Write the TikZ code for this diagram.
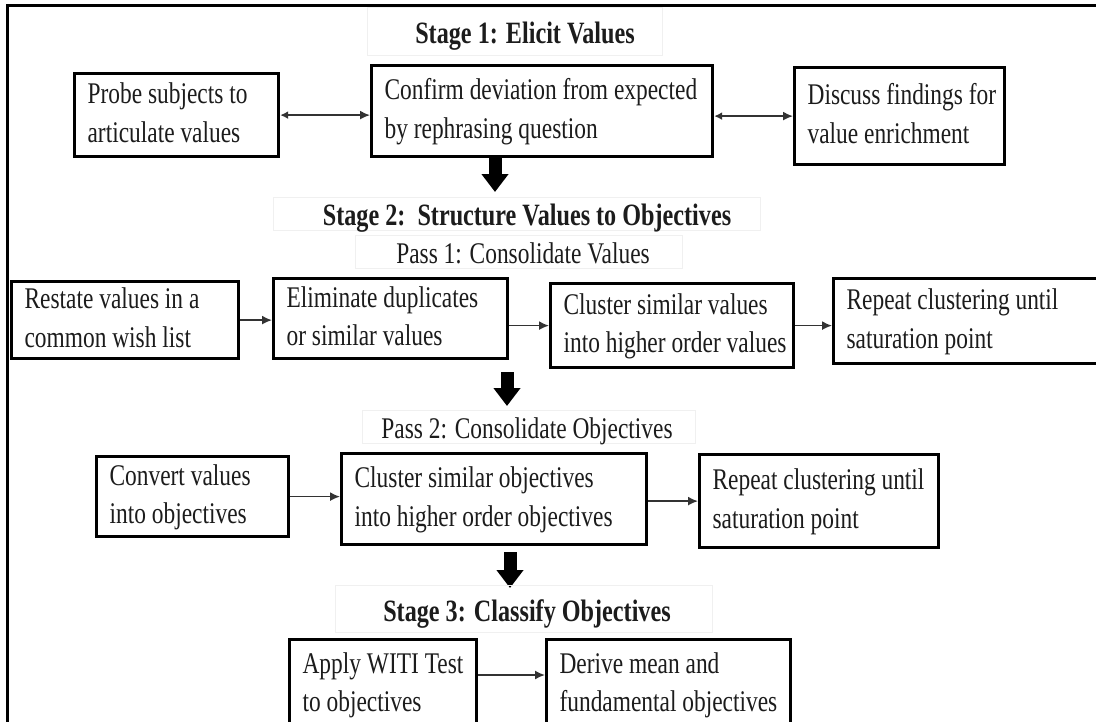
\documentclass[tikz,border=0pt]{standalone}
\usepackage{fontspec}
\setmainfont{Liberation Serif}[FakeStretch=0.78]
\usetikzlibrary{arrows.meta,calc}
\definecolor{ink}{HTML}{1C1C1C}
\definecolor{faint}{HTML}{F0F0F0}
% two left-aligned lines inside a box of fixed width (in pt)
\newcommand\twoline[3]{\makebox[#1pt][l]{\hspace{13pt}\begin{tabular}{@{}l@{}}#2\\#3\end{tabular}}}
\tikzset{
  box/.style={draw=black, line width=3.2pt, inner sep=0pt, anchor=north west,
              text=ink, font=\fontsize{30}{38.5}\selectfont},
  ttl/.style={font=\fontsize{31}{36}\selectfont\bfseries, text=ink, inner sep=0pt, anchor=base},
  sub/.style={font=\fontsize{30}{36}\selectfont, text=ink, inner sep=0pt, anchor=base},
  link/.style={draw=black!80, line width=1.6pt, -{Latex[length=10pt,width=9pt]}},
  dlink/.style={draw=black!80, line width=1.6pt, {Latex[length=8pt,width=8pt]}-{Latex[length=10pt,width=9pt]}},
  bigarrow/.style={draw=black, line width=13pt, -{Triangle[length=18pt,width=26pt]}},
  faintbox/.style={draw=faint, line width=0.8pt},
}
\begin{document}
\begin{tikzpicture}[x=1pt,y=-1pt]
\useasboundingbox (0,0) rectangle (1096,721);
\clip (0,0) rectangle (1096,721);
\fill[white] (0,0) rectangle (1096,721);

% outer frame (top and left edges)
\draw[line width=2.6pt] (7.5,730) -- (7.5,5.5) -- (1100,5.5);

% ---------- Stage 1 ----------
\draw[faintbox] (367,7) rectangle (662,55);
\node[ttl] (s1) at (525,43) {Stage 1: Elicit Values};

\node[box, minimum height=83pt] (probe) at (73,72) {\twoline{204}{Probe subjects to}{articulate values}};
\node[box, minimum height=91pt] (confirm) at (370,64) {\twoline{341}{Confirm deviation from expected}{by rephrasing question}};
\node[box, minimum height=97pt] (discuss) at (793,66) {\twoline{210}{Discuss findings for}{value enrichment}};

\draw[dlink] (probe.east) -- (probe.east -| confirm.west);
\draw[dlink] (confirm.east |- discuss.west) -- (discuss.west);

\coordinate (k1) at (495,192);
\draw[bigarrow] (k1 |- confirm.south) -- (k1);

% ---------- Stage 2 ----------
\draw[faintbox] (273,197) rectangle (760,230);
\node[ttl] (s2) at (527,225) {Stage 2:\ \ Structure Values to Objectives};
\draw[faintbox] (355,235) rectangle (682,268);
\node[sub] (p1) at (523,263) {Pass 1: Consolidate Values};

\node[box, minimum height=73pt] (restate) at (10,280) {\twoline{227}{Restate values in a}{common wish list}};
\node[box, minimum height=80pt] (elim) at (272,277) {\twoline{234}{Eliminate duplicates}{or similar values}};
\node[box, minimum height=84pt] (clval) at (549,282) {\twoline{243}{Cluster similar values}{into higher order values}};
\node[box, minimum height=85pt] (rep1) at (832,277) {\twoline{280}{Repeat clustering until}{saturation point}};

\draw[link] (restate.east) -- (restate.east -| elim.west);
\draw[link] (elim.east |- clval.west) -- (clval.west);
\draw[link] (clval.east) -- (clval.east -| rep1.west);

\coordinate (k2a) at (507,372);
\coordinate (k2b) at (507,406);
\draw[bigarrow] (k2a) -- (k2b);

\draw[faintbox] (362,410) rectangle (695,443);
\node[sub] (p2) at (527,438) {Pass 2: Consolidate Objectives};

\node[box, minimum height=80pt] (convert) at (95,455) {\twoline{192}{Convert values}{into objectives}};
\node[box, minimum height=91pt] (clobj) at (340,452) {\twoline{305}{Cluster similar objectives}{into higher order objectives}};
\node[box, minimum height=93pt] (rep2) at (698,453) {\twoline{239}{Repeat clustering until}{saturation point}};

\draw[link] (convert.east) -- (convert.east -| clobj.west);
\draw[link] (clobj.east |- rep2.west) -- (rep2.west);

\coordinate (k3a) at (510,552);
\coordinate (k3b) at (510,588);
\draw[bigarrow] (k3a) -- (k3b);

% ---------- Stage 3 ----------
\draw[faintbox] (335,585) rectangle (712,632);
\node[ttl] (s3) at (527,621) {Stage 3: Classify Objectives};

\node[box, minimum height=90pt] (witi) at (288,638) {\twoline{187}{Apply WITI Test}{to objectives}};
\node[box, minimum height=90pt] (derive) at (545,638) {\twoline{244}{Derive mean and}{fundamental objectives}};

\coordinate (wy) at (0,675);
\draw[link] (witi.east |- wy) -- (derive.west |- wy);
\end{tikzpicture}
\end{document}
